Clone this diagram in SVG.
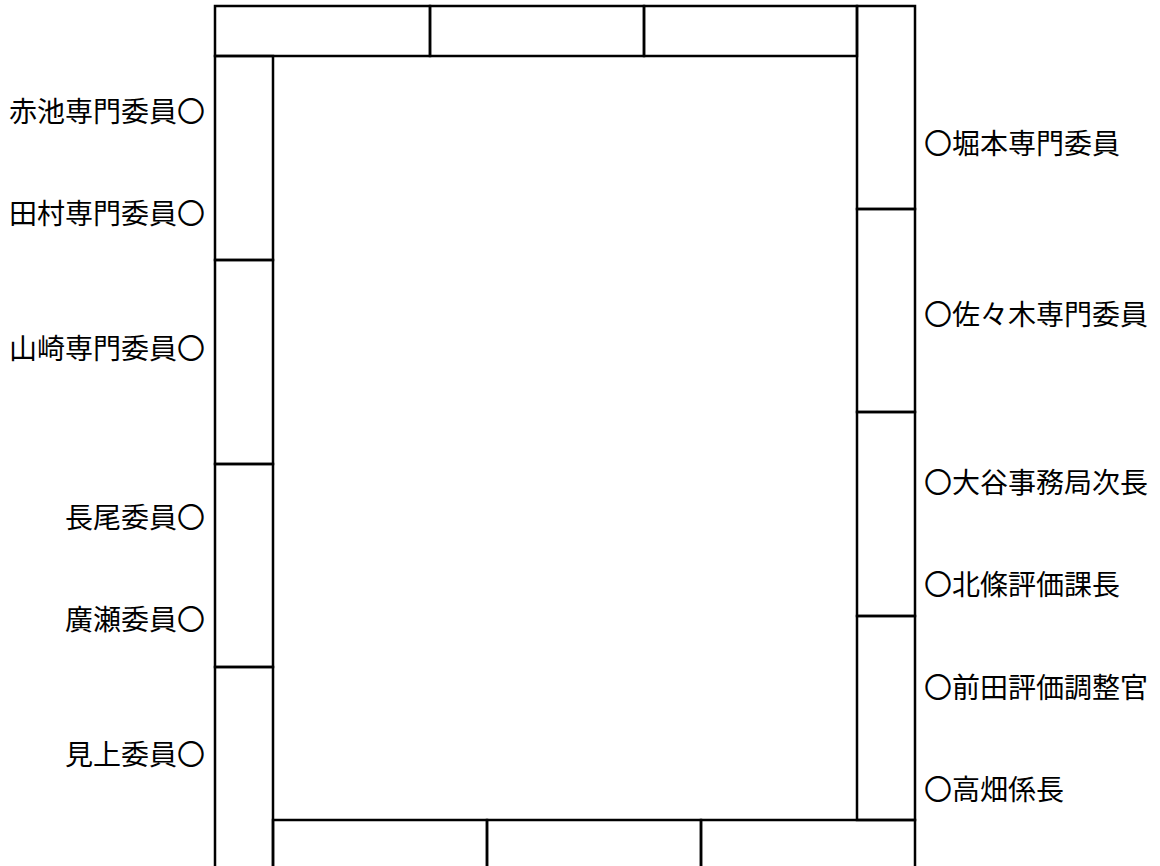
<svg xmlns="http://www.w3.org/2000/svg" width="1160" height="866" viewBox="0 0 1160 866">
<style>
.t{font-family:"Noto Sans CJK JP","Noto Sans CJK SC",sans-serif;font-size:28px;fill:#000;dominant-baseline:central}
.l{text-anchor:end}
.r{text-anchor:start}
.box{fill:none;stroke:#000;stroke-width:2.5}
</style>
<rect x="0" y="0" width="1160" height="866" fill="#fff"/>
<g id="table">
<g id="top-row">
<rect class="box" x="215" y="6" width="215" height="50"/>
<rect class="box" x="430" y="6" width="214" height="50"/>
<rect class="box" x="644" y="6" width="213" height="50"/>
</g>
<g id="right-col">
<rect class="box" x="857" y="6" width="58" height="203"/>
<rect class="box" x="857" y="209" width="58" height="203"/>
<rect class="box" x="857" y="412" width="58" height="204"/>
<rect class="box" x="857" y="616" width="58" height="204"/>
</g>
<g id="bottom-row">
<rect class="box" x="273" y="820" width="214" height="60"/>
<rect class="box" x="487" y="820" width="214" height="60"/>
<rect class="box" x="701" y="820" width="214" height="60"/>
</g>
<g id="left-col">
<rect class="box" x="215" y="56" width="58" height="204"/>
<rect class="box" x="215" y="260" width="58" height="204"/>
<rect class="box" x="215" y="464" width="58" height="203"/>
<rect class="box" x="215" y="667" width="58" height="213"/>
</g>
</g>
<g id="labels-left">
<text id="akaike" class="t l" x="205" y="110">赤池専門委員〇</text>
<text id="tamura" class="t l" x="205" y="212">田村専門委員〇</text>
<text id="yamazaki" class="t l" x="205" y="347">山崎専門委員〇</text>
<text id="nagao" class="t l" x="205" y="516">長尾委員〇</text>
<text id="hirose" class="t l" x="205" y="618">廣瀬委員〇</text>
<text id="mikami" class="t l" x="205" y="753">見上委員〇</text>
</g>
<g id="labels-right">
<text id="horimoto" class="t r" x="924" y="142">〇堀本専門委員</text>
<text id="sasaki" class="t r" x="924" y="313">〇佐々木専門委員</text>
<text id="otani" class="t r" x="924" y="481">〇大谷事務局次長</text>
<text id="hojo" class="t r" x="924" y="583">〇北條評価課長</text>
<text id="maeda" class="t r" x="924" y="686">〇前田評価調整官</text>
<text id="takahata" class="t r" x="924" y="788">〇高畑係長</text>
</g>
</svg>
